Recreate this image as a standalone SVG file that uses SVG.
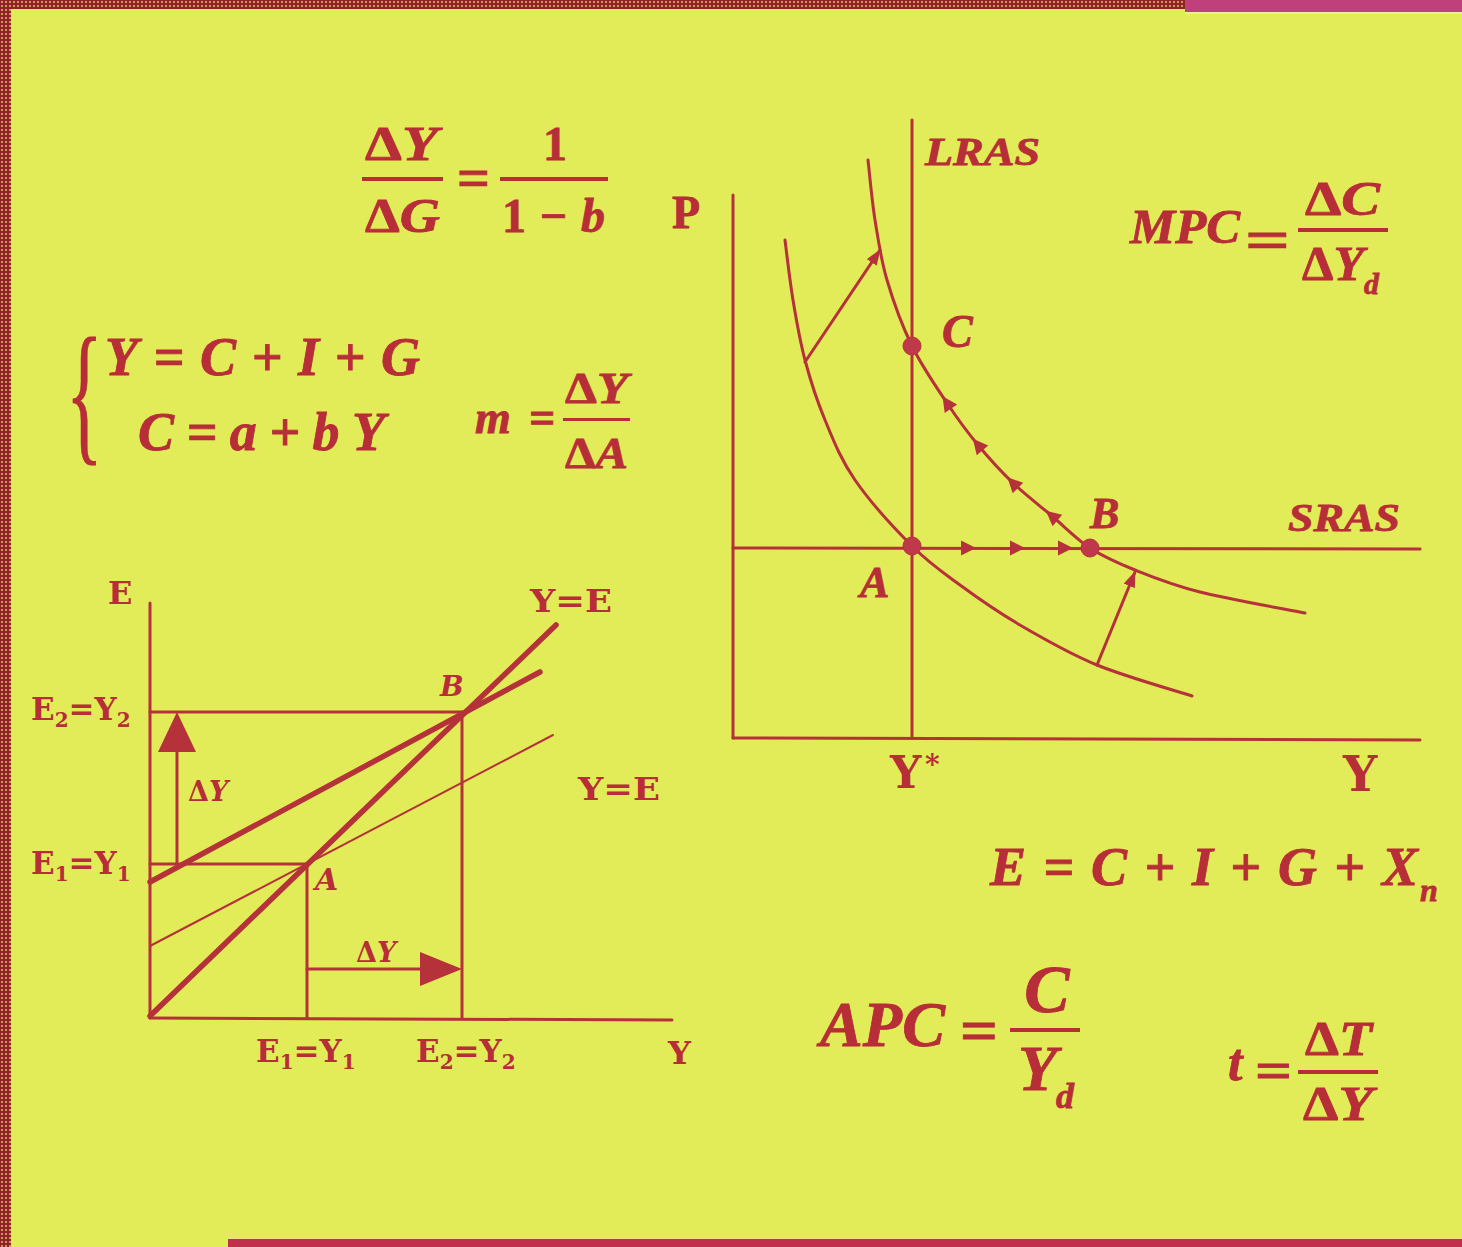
<svg xmlns="http://www.w3.org/2000/svg" width="1462" height="1247" viewBox="0 0 1462 1247">
<defs>
<style>
.f{font-family:"Liberation Serif","DejaVu Serif",serif;font-weight:bold;fill:#b72d38;stroke:#b72d38;stroke-width:0.8}
.it{font-style:italic}
.lb{font-family:"DejaVu Serif","Liberation Serif",serif;font-weight:bold;fill:#b72d38}
.ln{stroke:#b5323a;fill:none;stroke-linecap:round;stroke-linejoin:round}
.ax{stroke-width:3}
.thick{stroke-width:5.5}
.thin{stroke-width:2}
.bar{fill:#b72d38}
.dot{fill:#c0394a;stroke:#b5323a;stroke-width:1}
.ah{fill:#b5323a}
</style>
<pattern id="hatch" width="4" height="4" patternUnits="userSpaceOnUse">
<rect width="4" height="4" fill="#8f2424"/>
<circle cx="2" cy="2" r="1" fill="#e9b877"/>
</pattern>
<marker id="arr" viewBox="0 0 16 12" refX="15" refY="6" markerWidth="16" markerHeight="12" markerUnits="userSpaceOnUse" orient="auto">
<path d="M0,0 L16,6 L0,12 z" fill="#b5323a"/>
</marker>
<path id="tri" d="M8,0 L-7,-7.5 L-7,7.5 z"/>
</defs>

<rect id="background" x="0" y="0" width="1462" height="1247" fill="#e2eb58"/>
<g id="frame">
<rect x="0" y="0" width="1185" height="9" fill="url(#hatch)"/>
<rect x="1185" y="0" width="277" height="12" fill="#c0407c"/>
<rect x="1185" y="12" width="277" height="2" fill="#f2eaa0"/>
<rect x="0" y="0" width="11" height="1247" fill="url(#hatch)"/>
<rect x="228" y="1237" width="1234" height="2" fill="#f2d890"/>
<rect x="228" y="1239" width="1234" height="8" fill="#c0304c"/>
</g>

<!-- Formulas -->
<g id="formula-multiplier-G">
<text class="f" x="365" y="160" font-size="48" textLength="73" lengthAdjust="spacingAndGlyphs">Δ<tspan class="it">Y</tspan></text>
<rect class="bar" x="362" y="177" width="81" height="4"/>
<text class="f" x="365" y="232" font-size="48" textLength="75" lengthAdjust="spacingAndGlyphs">Δ<tspan class="it">G</tspan></text>
<text class="f" x="457" y="196" font-size="54" textLength="33" lengthAdjust="spacingAndGlyphs">=</text>
<text class="f" x="555" y="160" font-size="48" text-anchor="middle">1</text>
<rect class="bar" x="500" y="177" width="108" height="4"/>
<text class="f" x="502" y="232" font-size="48" textLength="103" lengthAdjust="spacing">1−<tspan class="it">b</tspan></text>
</g>

<g id="formula-system">
<text class="f" style="font-weight:normal;stroke-width:0.5" font-size="90" transform="translate(66,444) scale(0.85,1.72)">{</text>
<text class="f it" x="105" y="375" font-size="54" textLength="315" lengthAdjust="spacing">Y=C+I+G</text>
<text class="f it" x="138" y="450" font-size="54" textLength="247" lengthAdjust="spacing">C=a+bY</text>
</g>

<g id="formula-m">
<text class="f it" x="475" y="433" font-size="46" textLength="80" lengthAdjust="spacing">m=</text>
<text class="f" x="565" y="403" font-size="44" textLength="63" lengthAdjust="spacingAndGlyphs">Δ<tspan class="it">Y</tspan></text>
<rect class="bar" x="563" y="418" width="67" height="3"/>
<text class="f" x="565" y="468" font-size="44" textLength="63" lengthAdjust="spacingAndGlyphs">Δ<tspan class="it">A</tspan></text>
</g>

<g id="formula-MPC">
<text class="f it" x="1130" y="243" font-size="48" textLength="110" lengthAdjust="spacingAndGlyphs">MPC</text>
<text class="f" x="1245" y="258" font-size="54" textLength="45" lengthAdjust="spacingAndGlyphs">=</text>
<text class="f" x="1305" y="215" font-size="48" textLength="75" lengthAdjust="spacingAndGlyphs">Δ<tspan class="it">C</tspan></text>
<rect class="bar" x="1298" y="228" width="90" height="4"/>
<text class="f" x="1302" y="280" font-size="48" textLength="62" lengthAdjust="spacingAndGlyphs">Δ<tspan class="it">Y</tspan></text>
<text class="f it" x="1364" y="294" font-size="30">d</text>
</g>

<g id="formula-E">
<text class="f it" x="990" y="885" font-size="54" textLength="428" lengthAdjust="spacing">E=C+I+G+X</text>
<text class="f it" x="1420" y="901" font-size="32">n</text>
</g>

<g id="formula-APC">
<text class="f it" x="820" y="1046" font-size="64" textLength="125" lengthAdjust="spacingAndGlyphs">APC</text>
<text class="f" x="960" y="1050" font-size="60" textLength="38" lengthAdjust="spacingAndGlyphs">=</text>
<text class="f it" x="1047" y="1012" font-size="68" text-anchor="middle">C</text>
<rect class="bar" x="1010" y="1028" width="70" height="4"/>
<text class="f it" x="1018" y="1090" font-size="64">Y</text>
<text class="f it" x="1056" y="1108" font-size="36">d</text>
</g>

<g id="formula-t">
<text class="f it" x="1228" y="1080" font-size="52">t</text>
<text class="f" x="1255" y="1088" font-size="52" textLength="37" lengthAdjust="spacingAndGlyphs">=</text>
<text class="f" x="1305" y="1055" font-size="48" textLength="67" lengthAdjust="spacingAndGlyphs">Δ<tspan class="it">T</tspan></text>
<rect class="bar" x="1298" y="1070" width="80" height="4"/>
<text class="f" x="1303" y="1120" font-size="48" textLength="70" lengthAdjust="spacingAndGlyphs">Δ<tspan class="it">Y</tspan></text>
</g>

<g id="connectors">
<g id="left-chart-lines">
<line class="ln ax" x1="150" y1="603" x2="150" y2="1018"/>
<line class="ln ax" x1="150" y1="1018" x2="672" y2="1020"/>
<line class="ln ax" x1="150" y1="712" x2="462" y2="712"/>
<line class="ln ax" x1="462" y1="712" x2="462" y2="1018"/>
<line class="ln ax" x1="150" y1="864" x2="307" y2="864"/>
<line class="ln ax" x1="307" y1="864" x2="307" y2="1018"/>
<line class="ln thick" x1="150" y1="1016" x2="556" y2="625"/>
<line class="ln thick" x1="150" y1="882" x2="540" y2="672"/>
<line class="ln thin" x1="150" y1="946" x2="553" y2="735"/>
<line class="ln ax" x1="177" y1="864" x2="177" y2="750"/>
<path class="ah" d="M177,712 L158,752 L196,752 z"/>
<line class="ln ax" x1="307" y1="969" x2="422" y2="969"/>
<path class="ah" d="M462,969 L420,952 L420,986 z"/>
</g>

<g id="right-chart-lines">
<line class="ln ax" x1="733" y1="195" x2="733" y2="738"/>
<line class="ln ax" x1="733" y1="738" x2="1420" y2="740"/>
<line class="ln ax" x1="912" y1="120" x2="912" y2="738"/>
<line class="ln ax" x1="733" y1="548" x2="1420" y2="549"/>
<path id="AD2" class="ln ax" d="M868,160 C869.2,170 871.8,200 875,220 C878.2,240 880.8,259 887,280 C893.2,301 902,325.5 912,346 C922,366.5 936,386.5 947,403 C958,419.5 967,431.7 978,445 C989,458.3 1000.7,471.2 1013,483 C1025.3,494.8 1039.2,505.2 1052,516 C1064.8,526.8 1076.2,539 1090,548 C1103.8,557 1116.7,562.7 1135,570 C1153.3,577.3 1171.7,584.8 1200,592 C1228.3,599.2 1287.5,609.5 1305,613"/>
<path id="AD1" class="ln ax" d="M785,240 C786.3,250 789.7,280 793,300 C796.3,320 799.7,340 805,360 C810.3,380 816.7,400 825,420 C833.3,440 840.5,459 855,480 C869.5,501 894.5,528.5 912,546 C929.5,563.5 942,571.8 960,585 C978,598.2 997.2,611.7 1020,625 C1042.8,638.3 1068.3,653.2 1097,665 C1125.7,676.8 1176.2,690.8 1192,696"/>
<line class="ln ax" x1="805" y1="362" x2="880" y2="250" marker-end="url(#arr)"/>
<line class="ln ax" x1="1097" y1="665" x2="1135" y2="572" marker-end="url(#arr)"/>
<g class="ah">
<use href="#tri" transform="translate(968,548)"/>
<use href="#tri" transform="translate(1017,548)"/>
<use href="#tri" transform="translate(1065,548)"/>
<use href="#tri" transform="translate(947,403) rotate(-124)"/>
<use href="#tri" transform="translate(978,445) rotate(-130)"/>
<use href="#tri" transform="translate(1013,483) rotate(-135)"/>
<use href="#tri" transform="translate(1052,516) rotate(-140)"/>
</g>
</g>
</g>

<g id="left-chart-labels">
<text class="lb" x="108" y="604" font-size="32">E</text>
<text class="lb" x="31" y="720" font-size="31">E<tspan dy="7" font-size="20">2</tspan><tspan dy="-7">=Y</tspan><tspan dy="7" font-size="20">2</tspan></text>
<text class="lb" x="31" y="874" font-size="31">E<tspan dy="7" font-size="20">1</tspan><tspan dy="-7">=Y</tspan><tspan dy="7" font-size="20">1</tspan></text>
<text class="lb" x="188" y="801" font-size="27">Δ<tspan class="it">Y</tspan></text>
<text class="lb it" x="315" y="890" font-size="30">A</text>
<text class="lb it" x="440" y="696" font-size="28">B</text>
<text class="lb" x="530" y="612" font-size="31" textLength="82" lengthAdjust="spacingAndGlyphs">Y=E</text>
<text class="lb" x="578" y="800" font-size="31" textLength="82" lengthAdjust="spacingAndGlyphs">Y=E</text>
<text class="lb" x="356" y="962" font-size="27">Δ<tspan class="it">Y</tspan></text>
<text class="lb" x="256" y="1062" font-size="31">E<tspan dy="7" font-size="20">1</tspan><tspan dy="-7">=Y</tspan><tspan dy="7" font-size="20">1</tspan></text>
<text class="lb" x="416" y="1062" font-size="31">E<tspan dy="7" font-size="20">2</tspan><tspan dy="-7">=Y</tspan><tspan dy="7" font-size="20">2</tspan></text>
<text class="lb" x="668" y="1064" font-size="32">Y</text>
</g>

<g id="right-chart-nodes">
<g id="point-C"><circle class="dot" cx="912" cy="346" r="9"/><text class="f it" x="942" y="347" font-size="46">C</text></g>
<g id="point-A"><circle class="dot" cx="912" cy="546" r="9"/><text class="f it" x="860" y="597" font-size="44">A</text></g>
<g id="point-B"><circle class="dot" cx="1090" cy="548" r="9"/><text class="f it" x="1090" y="528" font-size="44">B</text></g>
<text class="f it" x="925" y="165" font-size="40" textLength="115" lengthAdjust="spacingAndGlyphs">LRAS</text>
<text class="f it" x="1288" y="531" font-size="40" textLength="112" lengthAdjust="spacingAndGlyphs">SRAS</text>
<text class="f" x="672" y="228" font-size="46">P</text>
<text class="lb" x="890" y="788" font-size="44">Y</text>
<text class="lb" x="925" y="774" font-size="28">*</text>
<text class="lb" x="1343" y="791" font-size="48">Y</text>
</g>
</svg>
